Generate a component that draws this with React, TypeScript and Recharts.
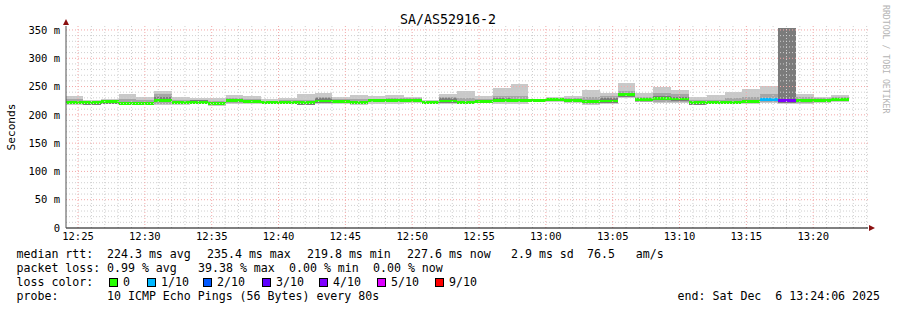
import { ComposedChart, Area, XAxis, YAxis, ReferenceLine, ReferenceDot } from 'recharts'

const MONO = '"DejaVu Sans Mono", "Liberation Mono", monospace'

// time axis, seconds since midnight
const T_START = 12 * 3600 + 24 * 60 + 6 // 12:24:06
const T_END = 13 * 3600 + 24 * 60 + 6 // 13:24:06
const STEP = 80
const FIRST_BIN = 12 * 3600 + 24 * 60 + 2

const xTickLabels = ['12:25', '12:30', '12:35', '12:40', '12:45', '12:50', '12:55', '13:00', '13:05', '13:10', '13:15', '13:20']
const yTicks = [0, 50, 100, 150, 200, 250, 300, 350]

// per 80s bin, values in ms
const medianRtt = [
  222, 221, 223, 220, 220.5, 225, 221.5, 222, 219.8, 225,
  223.5, 222.5, 222.5, 221, 224.5, 224, 222.5, 225, 226, 225.5,
  222.5, 224.5, 222.5, 224, 226, 225.5, 225, 227, 225.5, 223.5,
  224.5, 235.4, 227, 229.5, 228, 221, 222.5, 222, 224, 227,
  225.5, 225.5, 225.5, 227.6,
]
const maxRtt = [
  233, 227, 228, 237, 232, 242, 232, 230, 230, 235,
  233, 228, 230, 237, 239, 232, 235, 233, 235, 232,
  226, 237, 242, 233, 247, 254, 228, 232, 233, 244,
  239, 256, 239, 249, 244, 232, 235, 240, 245, 251,
  353, 237, 232, 235,
]
const minRtt = [
  218, 218.5, 219, 217, 217.5, 218, 218, 219, 216, 219,
  219, 219.5, 219, 218, 220, 219.5, 218, 220, 220, 220.5,
  220, 219, 218.5, 220.5, 220, 220, 222, 222.5, 221, 218,
  220, 229, 222, 221, 220.5, 218, 219, 219.5, 220, 221,
  220, 219, 221, 223,
]
const upperRtt = [
  228, 224, 226, 228, 226, 237, 226, 227, 225, 229,
  228, 225, 226, 227, 231, 228, 228, 228, 230, 229,
  225, 231, 230, 228, 233, 234, 227, 230, 229, 232,
  233, 243, 232, 238, 236, 226, 227, 229, 232, 236,
  353, 231, 229, 231,
]
const lowerRtt = [
  219.5, 219.5, 220.5, 218.5, 218.5, 220, 219.5, 220.5, 217.5, 221,
  220.5, 220.5, 220.5, 219, 221.5, 221, 219.5, 222, 222, 222,
  221, 221, 220, 222, 222, 222, 223, 224, 222.5, 220,
  221.5, 231, 223.5, 223, 223, 219, 220, 220.5, 221.5, 223,
  221, 221, 222.5, 224.5,
]
const coreHigh = [
  224.5, 223, 225, 223, 222.5, 232, 224, 226, 222, 227.5,
  225.5, 224.5, 224.5, 223.5, 229, 226, 225, 227, 228, 227.5,
  224.5, 229, 225, 226, 229, 227.5, 227, 229, 227.5, 227,
  229, 239, 229, 234, 231, 223.5, 224.5, 224.5, 226.5, 230,
  353, 228, 227.5, 229.5,
]
const coreLow = [
  219, 218, 220, 217, 217.5, 222, 218.5, 219, 216.8, 222,
  220.5, 219.5, 219.5, 218, 221.5, 221, 219.5, 222, 223, 222.5,
  220, 221.5, 219.5, 221, 223, 222.5, 222, 224, 222.5, 220.5,
  221.5, 231.5, 224, 226.5, 225, 218, 219.5, 219.5, 221, 224,
  221, 222.5, 222.5, 224.6,
]
// lost pings out of 10
const lostPings = [
  0, 0, 0, 0, 0, 0, 0, 0, 0, 0,
  0, 0, 0, 0, 0, 0, 0, 0, 0, 0,
  0, 0, 0, 0, 0, 0, 0, 0, 0, 0,
  0, 0, 0, 0, 0, 0, 0, 0, 0, 1,
  4, 0, 0, 0,
]

const lossLevels = [0, 1, 2, 3, 4, 5, 9]
const lossLabels = ['0', '1/10', '2/10', '3/10', '4/10', '5/10', '9/10']
const lossColors = ['#26ff00', '#00b8ff', '#0059ff', '#5e00ff', '#7e00ff', '#dd00ff', '#ff0000']

const MEDIAN_HALF = 2.6

const toSec = (hhmm: string) => {
  const [h, m] = hhmm.split(':').map(Number)
  return h * 3600 + m * 60
}
const fmtTime = (s: number) => {
  const h = Math.floor(s / 3600)
  const m = Math.floor((s % 3600) / 60)
  return `${h}:${String(m).padStart(2, '0')}`
}
const levelOf = (lost: number) => {
  let idx = 0
  lossLevels.forEach((lv, i) => { if (lost >= lv) idx = i })
  return idx
}

const xTicks = xTickLabels.map(toSec)
const minorX: number[] = []
for (let s = xTicks[0]; s < T_END; s += 60) if ((s - xTicks[0]) % 300 !== 0) minorX.push(s)
const minorY: number[] = []
for (let v = 10; v <= 350; v += 10) if (v % 50 !== 0) minorY.push(v)

// two points per bin so every bin is a flat step
const rows: Record<string, unknown>[] = []
medianRtt.forEach((med, i) => {
  const start = FIRST_BIN + i * STEP
  const lvl = levelOf(lostPings[i])
  for (const t of [start, start + STEP]) {
    const row: Record<string, unknown> = {
      t,
      outer: [minRtt[i], maxRtt[i]],
      mid: [lowerRtt[i], upperRtt[i]],
      core: [coreLow[i], coreHigh[i]],
    }
    lossLevels.forEach((_, li) => {
      row[`m${li}`] = li === lvl ? [med - MEDIAN_HALF, med + MEDIAN_HALF] : null
    })
    rows.push(row)
  }
})
const usedLevels = lossLevels.map((_, li) => li).filter((li) => lostPings.some((l) => levelOf(l) === li))

const upArrow = (p: { cx?: number; cy?: number }) => {
  const cx = p.cx ?? 0
  const cy = p.cy ?? 0
  return <path d={`M${cx - 3},${cy - 1} L${cx + 3},${cy - 1} L${cx},${cy - 7} Z`} fill="#8b1010" />
}
const rightArrow = (p: { cx?: number; cy?: number }) => {
  const cx = p.cx ?? 0
  const cy = p.cy ?? 0
  return <path d={`M${cx + 1},${cy - 3} L${cx + 1},${cy + 3} L${cx + 7},${cy} Z`} fill="#8b1010" />
}

const legendTop = [
  { x: 16.5, text: 'median rtt:' },
  { x: 107, text: '224.3 ms avg' },
  { x: 207, text: '235.4 ms max' },
  { x: 307, text: '219.8 ms min' },
  { x: 407, text: '227.6 ms now' },
  { x: 511, text: '2.9 ms sd' },
  { x: 587, text: '76.5   am/s' },
]
const legendLoss = [
  { x: 16.5, text: 'packet loss:' },
  { x: 107, text: '0.99 % avg' },
  { x: 198, text: '39.38 % max' },
  { x: 289, text: '0.00 % min' },
  { x: 373, text: '0.00 % now' },
]
const swatchX = [109, 147, 203, 262, 319, 377, 435]

export default function App() {
  return (
    <div style={{ position: 'relative', width: 897, height: 310, background: '#fff' }}>
      <style>{'body{margin:0}'}</style>
      <ComposedChart
        width={897}
        height={310}
        data={rows}
        margin={{ top: 26, right: 29, bottom: 52, left: 0 }}
      >
        <XAxis
          dataKey="t"
          type="number"
          domain={[T_START, T_END]}
          allowDataOverflow
          ticks={xTicks}
          tickFormatter={fmtTime}
          tick={{ fontSize: 10.5, fill: '#000', fontFamily: MONO }}
          tickLine={false}
          tickSize={0}
          tickMargin={5}
          axisLine={{ stroke: '#000' }}
          height={30}
        />
        <YAxis
          type="number"
          domain={[0, 357]}
          allowDataOverflow
          ticks={yTicks}
          tickFormatter={(v: number) => (v === 0 ? '0' : `${v} m`)}
          tick={{ fontSize: 10.5, fill: '#000', fontFamily: MONO }}
          tickLine={false}
          tickSize={0}
          tickMargin={6}
          axisLine={{ stroke: '#505050' }}
          width={66}
        />
        <Area dataKey="outer" type="linear" stroke="none" fill="#c9c9c9" fillOpacity={1} isAnimationActive={false} shapeRendering="crispEdges" />
        <Area dataKey="mid" type="linear" stroke="none" fill="#a6a6a6" fillOpacity={1} isAnimationActive={false} shapeRendering="crispEdges" />
        <Area dataKey="core" type="linear" stroke="none" fill="#7b7b7b" fillOpacity={1} isAnimationActive={false} shapeRendering="crispEdges" />
        {usedLevels.map((li) => (
          <Area
            key={li}
            dataKey={`m${li}`}
            type="linear"
            stroke="none"
            fill={lossColors[li]}
            fillOpacity={1}
            connectNulls={false}
            isAnimationActive={false}
            shapeRendering="crispEdges"
          />
        ))}
        {minorY.map((v) => (
          <ReferenceLine key={`my${v}`} y={v} stroke="#cfcfcf" strokeDasharray="1 2" />
        ))}
        {minorX.map((v) => (
          <ReferenceLine key={`mx${v}`} x={v} stroke="#cfcfcf" strokeDasharray="1 2" />
        ))}
        {yTicks.filter((v) => v > 0).map((v) => (
          <ReferenceLine key={`y${v}`} y={v} stroke="#f3a8a8" strokeDasharray="1 2" />
        ))}
        {xTicks.map((v) => (
          <ReferenceLine key={`x${v}`} x={v} stroke="#f3a8a8" strokeDasharray="1 2" />
        ))}
        <ReferenceDot x={T_START} y={357} r={0} ifOverflow="visible" shape={upArrow} />
        <ReferenceDot x={T_END} y={0} r={0} ifOverflow="visible" shape={rightArrow} />
      </ComposedChart>
      <svg
        width={897}
        height={310}
        style={{ position: 'absolute', left: 0, top: 0, pointerEvents: 'none' }}
        fontFamily={MONO}
      >
        <text x={448} y={23.5} fontSize={13.3} textAnchor="middle" fill="#000">SA/AS52916-2</text>
        <text x={15} y={127} fontSize={11.2} textAnchor="middle" fill="#000" transform="rotate(-90 15 127)">Seconds</text>
        <text x={883} y={5} fontSize={8.2} fill="#b4b4b4" transform="rotate(90 883 5)">RRDTOOL / TOBI OETIKER</text>
        {legendTop.map((it) => (
          <text key={it.text} x={it.x} y={258} fontSize={11.6} fill="#000" style={{ whiteSpace: 'pre' }}>{it.text}</text>
        ))}
        {legendLoss.map((it) => (
          <text key={it.text} x={it.x} y={272} fontSize={11.6} fill="#000" style={{ whiteSpace: 'pre' }}>{it.text}</text>
        ))}
        <text x={16.5} y={286} fontSize={11.6} fill="#000">loss color:</text>
        {lossLabels.map((lab, i) => (
          <g key={lab}>
            <rect x={swatchX[i] + 0.5} y={278.5} width={8} height={8} fill={lossColors[i]} stroke="#000" strokeWidth={1} />
            <text x={swatchX[i] + 14} y={286} fontSize={11.6} fill="#000">{lab}</text>
          </g>
        ))}
        <text x={16.5} y={300} fontSize={11.6} fill="#000">probe:</text>
        <text x={107} y={300} fontSize={11.6} fill="#000">10 ICMP Echo Pings (56 Bytes) every 80s</text>
        <text x={880} y={300} fontSize={11.6} fill="#000" textAnchor="end" style={{ whiteSpace: 'pre' }}>end: Sat Dec  6 13:24:06 2025</text>
      </svg>
    </div>
  )
}
